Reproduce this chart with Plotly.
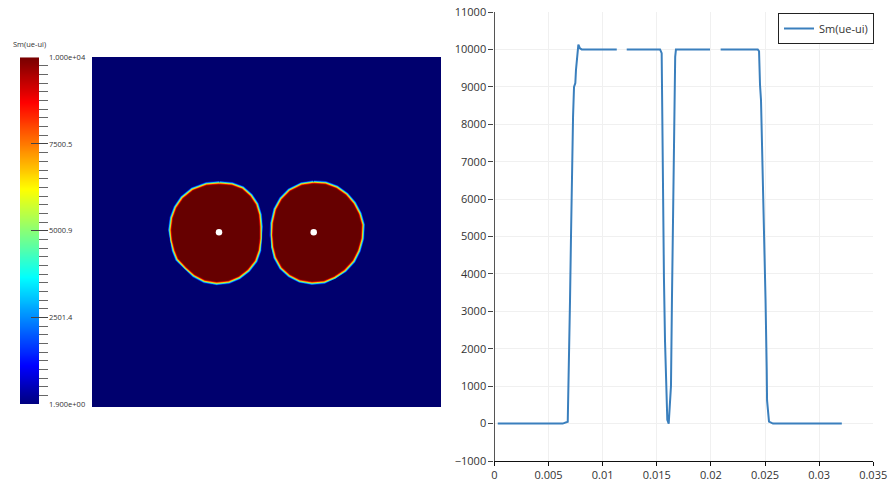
import plotly.graph_objects as go

W, H = 889, 482

# Line profile: None marks the gaps in the curve
profile_x = [0.0003, 0.0063, 0.00677, 0.00685, 0.00698, 0.00707, 0.00716, 0.00726, 0.00735, 0.00747,
             0.00753, 0.00765, 0.00775, 0.0079, 0.00806, 0.0113, None, 0.01222, 0.0153, 0.01545,
             0.01548, 0.01557, 0.01566, 0.01576, 0.01585, 0.01591, 0.01597, 0.0161, 0.01622, 0.01631,
             0.0164, 0.0165, 0.01662, 0.01668, 0.0167, 0.01677, 0.01992, None, 0.0209, 0.02433,
             0.02445, 0.02447, 0.02454, 0.02463, 0.02486, 0.02505, 0.02516, 0.02519, 0.02537, 0.02574, 0.0321]
profile_y = [0, 0, 50, 1000, 3300, 5000, 7000, 8200, 9000, 9100,
             9450, 9900, 10130, 10030, 10000, 10000, None, 10000, 10000, 9900,
             8700, 6000, 3900, 2200, 1430, 700, 100, 0, 470, 1000,
             3300, 6000, 8650, 9180, 9800, 10000, 10000, None, 10000, 10000,
             9950, 9550, 9050, 8650, 5980, 3300, 1430, 620, 50, 0, 0]
y_ticks = [-1000, 0, 1000, 2000, 3000, 4000, 5000, 6000, 7000, 8000, 9000, 10000, 11000]
x_ticks = [0, 0.005, 0.01, 0.015, 0.02, 0.025, 0.03, 0.035]
x_labels = ["0", "0.005", "0.01", "0.015", "0.02", "0.025", "0.03", "0.035"]
series_name = "Sm(ue-ui)"

# Colour scale levels and labels
scale_levels = [1.9, 250, 500, 750, 1000, 1250, 1500, 1750, 2000, 2250, 2501.4, 2750, 3000, 3250, 3500,
                3750, 4000, 4250, 4500, 4750, 5000.9, 5250, 5500, 5750, 6000, 6250, 6500, 6750, 7000,
                7250, 7500.5, 7750, 8000, 8250, 8500, 8750, 9000, 9250, 9500, 9750, 10000]
scale_major = [1.9, 2501.4, 5000.9, 7500.5, 10000]
scale_labels = ["1.900e+00", "2501.4", "5000.9", "7500.5", "1.000e+04"]
jet = [[0, "rgb(0,0,125)"], [0.11, "rgb(0,0,255)"], [0.365, "rgb(0,255,255)"], [0.49, "rgb(128,255,128)"],
       [0.62, "rgb(255,255,0)"], [0.87, "rgb(255,0,0)"], [1, "rgb(120,0,0)"]]

# Field image: saturated lobe outlines and source holes
left_lobe_x = [127.3, 139.7, 149.7, 157.5, 163, 166, 167, 167, 165.5, 162, 155, 146.3, 136.3, 124.7, 113,
               103, 94.7, 86.8, 83.5, 81, 80, 81.5, 85.2, 91.5, 101.3, 114.7, 127.3]
left_lobe_y = [222, 221, 217.3, 210.3, 202, 192, 180.3, 168.7, 157, 147, 138, 131.3, 127, 125.7, 127.7,
               133, 140.3, 148.7, 157, 167, 177, 188.7, 198.7, 208, 216, 221, 222]
right_lobe_x = [221.7, 233.3, 244, 253.3, 260.7, 266, 269, 268.3, 265, 260, 251.7, 241.7, 231.7, 220, 208.3,
                198.5, 190.5, 185, 182.5, 181.5, 182, 185, 190.5, 198.5, 210, 221.7]
right_lobe_y = [222.7, 222, 218, 211.3, 202.7, 192.7, 182, 168.7, 157, 147, 138, 131.3, 127, 126, 128,
                133, 140.3, 150.3, 160.3, 172, 183.7, 197, 207, 215.3, 221, 222.7]
hole_x = [127, 221.7]
hole_y = [174.7, 174.7]
edge_colors = ["#0020e0", "#00c0ff", "#70f090", "#ffd000", "#f01000", "#900000"]
edge_widths = [8, 6.8, 5.6, 4.4, 3, 1.6]
lobe_color = "#660000"
field_color = "#00006e"

fig = go.Figure()

# Right: line plot
fig.add_trace(go.Scatter(x=profile_x, y=profile_y, mode="lines", name=series_name, connectgaps=False,
                         line=dict(color="#3a7fbd", width=2), xaxis="x", yaxis="y"))

# Centre: field image
fig.add_trace(go.Heatmap(x=[0, 349], y=[0, 350], z=[[1.9, 1.9], [1.9, 1.9]], colorscale=[[0, field_color], [1, field_color]],
                         showscale=False, xaxis="x2", yaxis="y2"))
for lx, ly in ((left_lobe_x, left_lobe_y), (right_lobe_x, right_lobe_y)):
    for c, w in zip(edge_colors, edge_widths):
        fig.add_trace(go.Scatter(x=lx, y=ly, mode="lines", showlegend=False, xaxis="x2", yaxis="y2",
                                 line=dict(color=c, width=w)))
    fig.add_trace(go.Scatter(x=lx, y=ly, mode="lines", fill="toself", fillcolor=lobe_color, showlegend=False,
                             xaxis="x2", yaxis="y2", line=dict(color=lobe_color, width=0.5)))
fig.add_trace(go.Scatter(x=hole_x, y=hole_y, mode="markers", showlegend=False, xaxis="x2", yaxis="y2",
                         marker=dict(color="white", size=6.5, line=dict(width=0))))

# Left: colour bar
fig.add_trace(go.Heatmap(x=[0, 1], y=scale_levels, z=[[v, v] for v in scale_levels], colorscale=jet,
                         zmin=1.9, zmax=10000, zsmooth="best", showscale=False, xaxis="x3", yaxis="y3"))

font = "Open Sans, Liberation Sans, sans-serif"
fig.update_layout(
    width=W, height=H, margin=dict(l=0, r=0, t=0, b=0, autoexpand=False), paper_bgcolor="white", plot_bgcolor="white",
    font=dict(family=font, size=11, color="#333333"),
    xaxis=dict(domain=[494.5 / W, 873.2 / W], range=[0, 0.035], tickvals=x_ticks, ticktext=x_labels, ticks="outside",
               ticklen=4, tickcolor="#111111", showline=True, linecolor="#111111", linewidth=1.2,
               showgrid=True, gridcolor="#f0f0f0", zeroline=False, anchor="y"),
    yaxis=dict(domain=[(H - 461) / H, (H - 12) / H], range=[-1000, 11000], tickvals=y_ticks, ticks="outside",
               ticklen=5, tickcolor="#444444", showline=True, linecolor="#555555", linewidth=1.2,
               showgrid=True, gridcolor="#f0f0f0", zeroline=False, anchor="x", tickformat="d"),
    xaxis2=dict(domain=[92 / W, 441 / W], range=[0, 349], visible=False, anchor="y2"),
    yaxis2=dict(domain=[(H - 407) / H, (H - 57) / H], range=[0, 350], visible=False, anchor="x2"),
    xaxis3=dict(domain=[20 / W, 39 / W], range=[0, 1], visible=False, anchor="y3"),
    yaxis3=dict(domain=[(H - 404) / H, (H - 57.3) / H], range=[1.9, 10000], side="right", anchor="free",
                position=48 / W, tickvals=scale_major, ticktext=scale_labels, ticks="inside", ticklen=17, tickwidth=1,
                tickcolor="#444444", tickfont=dict(size=7.5, color="#333333"), showgrid=False, zeroline=False,
                showline=False, minor=dict(tickvals=scale_levels, ticks="inside", ticklen=9, tickcolor="#666666",
                                           tickwidth=1, showgrid=False)),
    legend=dict(x=874 / W, xanchor="right", y=(H - 13) / H, yanchor="top", bgcolor="white", bordercolor="#222222",
                borderwidth=1, font=dict(size=11, color="#333333"), itemwidth=30, entrywidth=46, entrywidthmode="pixels"),
    annotations=[dict(text=series_name, x=11 / W, y=(H - 44) / H, xref="paper", yref="paper", xanchor="left",
                      yanchor="middle", showarrow=False, font=dict(size=7.5, color="#333333"))],
    showlegend=True,
)
fig.write_html("out.html", config={"displayModeBar": False},
               post_script="document.body.style.margin='0';document.body.style.overflow='hidden';")
